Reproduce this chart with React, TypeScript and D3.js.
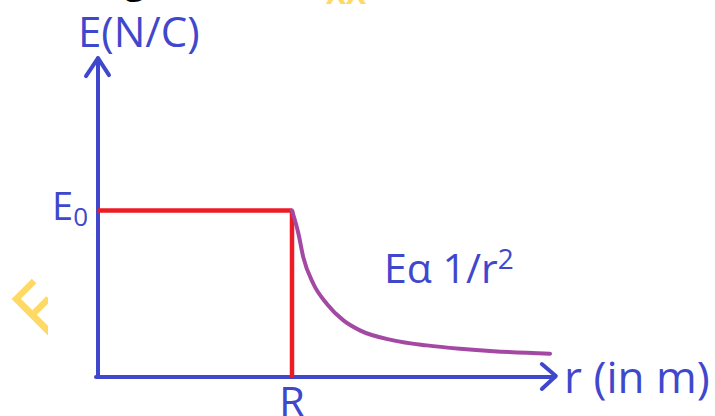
import React from 'react'
import * as d3 from 'd3'

// field inside / outside a charged conducting sphere
// r measured in units of R, E in units of E0
const insideR = [0, 1]
const insideE = [1, 1]
const outsideR = [1.0, 1.033, 1.058, 1.11, 1.179, 1.265, 1.35, 1.522, 1.695, 1.866, 2.038, 2.33]
const outsideE = [1.0, 0.862, 0.72, 0.56, 0.44, 0.34, 0.28, 0.22, 0.19, 0.17, 0.155, 0.14]
const axisMax = { r: 2.36, e: 1.915 }
const tickR = 'R'
const tickE = 'E'
const tickESub = '0'
const yTitle = 'E(N/C)'
const xTitle = 'r (in m)'
const lawText = 'Eα 1/r'
const lawSup = '2'

const W = 715
const H = 416
const BLUE = '#3F48CC'
const RED = '#ED1C24'
const PURPLE = '#A349A4'
const FONT = "'Open Sans', 'Noto Sans', sans-serif"

export default function App() {
  const x = d3.scaleLinear().domain([0, 1]).range([98, 292])
  const y = d3.scaleLinear().domain([0, 1]).range([377, 210.5])

  const inside = insideR.map((r, i) => [x(r), y(insideE[i])] as [number, number])
  const outside = outsideR.map((r, i) => [x(r), y(outsideE[i])] as [number, number])

  const curve = d3.line().curve(d3.curveMonotoneX)(outside) || ''
  const flat = d3.line()(inside) || ''

  const x0 = x(0)
  const y0 = y(0)
  const xEnd = x(axisMax.r)
  const yEnd = y(axisMax.e)

  return (
    <div style={{ position: 'fixed', left: 0, top: 0, width: W, height: H, background: '#fff' }}>
      <svg width={W} height={H} style={{ display: 'block' }}>
        <defs>
          <clipPath id="wm">
            <rect x={0} y={260} width={48} height={100} />
          </clipPath>
        </defs>

        {/* cut-off bits of the page above */}
        <text x={124} y={-8} fontFamily={FONT} fontSize={40} fill="#000">g</text>
        <text x={326} y={4} fontFamily={FONT} fontSize={30} fontWeight={700} fill="#FFD966">XX</text>

        {/* watermark */}
        <g clipPath="url(#wm)">
          <text
            transform="translate(46,343) rotate(-45)"
            fontFamily="'Liberation Sans Narrow', 'DejaVu Sans Condensed', sans-serif"
            fontSize={76}
            fill="#FFD966"
          >
            F
          </text>
        </g>

        {/* axes */}
        <g stroke={BLUE} strokeWidth={4} fill="none" strokeLinecap="round" strokeLinejoin="round">
          <line x1={x0} y1={y0} x2={x0} y2={yEnd} />
          <polyline points={`${x0 - 12},${yEnd + 18} ${x0},${yEnd} ${x0 + 11},${yEnd + 17}`} />
          <line x1={x0 - 2} y1={y0} x2={xEnd - 1} y2={y0} />
          <polyline points={`${xEnd - 14},${y0 - 13} ${xEnd},${y0 - 1} ${xEnd - 14},${y0 + 12}`} />
        </g>

        {/* E = E0 inside, drop at R */}
        <path d={flat} stroke={RED} strokeWidth={4.5} fill="none" />
        <line x1={x(1)} y1={y(1)} x2={x(1)} y2={y0} stroke={RED} strokeWidth={4.5} />

        {/* 1/r^2 falloff */}
        <path d={curve} stroke={PURPLE} strokeWidth={4} fill="none" strokeLinecap="round" />

        {/* labels */}
        <g fontFamily={FONT} fill={BLUE}>
          <text x={78} y={47} fontSize={42}>{yTitle}</text>
          <text x={52} y={220} fontSize={38}>
            {tickE}
            <tspan fontSize={26} dy={6}>{tickESub}</tspan>
          </text>
          <text x={x(1)} y={417} fontSize={42} textAnchor="middle">{tickR}</text>
          <text x={564} y={393} fontSize={44}>{xTitle}</text>
          <text x={384} y={283} fontSize={41}>
            {lawText}
            <tspan fontSize={28} dy={-14}>{lawSup}</tspan>
          </text>
        </g>
      </svg>
    </div>
  )
}
